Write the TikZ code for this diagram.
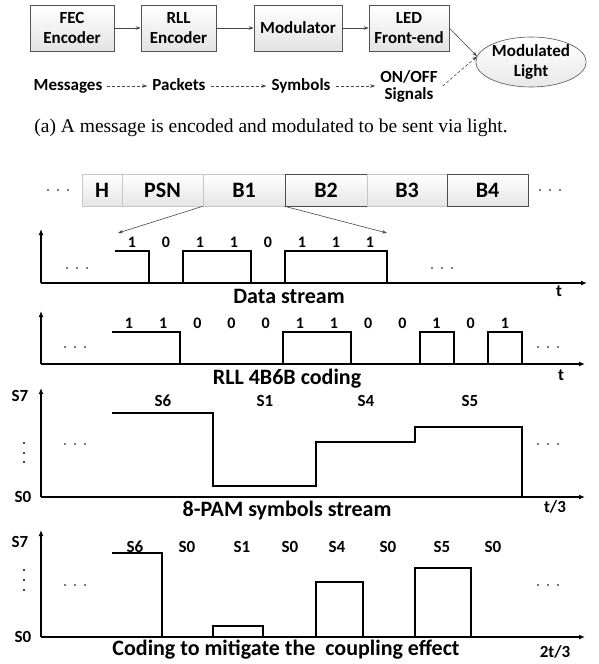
\documentclass[tikz,border=0pt]{standalone}
\usepackage{fontspec}
\setmainfont{Carlito}
\newfontfamily\capfont{Liberation Serif}
\usetikzlibrary{arrows.meta,shapes.geometric}
\begin{document}
\begin{tikzpicture}[x=1pt,y=-1pt,
  blk/.style={draw=gray!65!black,line width=0.6pt,top color=white,bottom color=gray!22,minimum height=46pt,inner sep=0pt,align=center,font=\fontsize{17}{19.5}\selectfont\bfseries},
  pk/.style={draw=gray!45,line width=0.6pt,top color=white,bottom color=gray!20,minimum height=32pt,inner sep=0pt,font=\fontsize{22}{22}\selectfont\bfseries},
  pkd/.style={pk,draw=gray!60!black},
  lbl/.style={inner xsep=5pt,inner ysep=0pt,text height=12pt,text depth=4pt,align=center,font=\fontsize{17}{17}\selectfont\bfseries},
  arr/.style={draw=gray!55!black,line width=0.6pt,-{Stealth[length=5pt,width=3.5pt]}},
  darr/.style={arr,dashed,dash pattern=on 3pt off 2pt},
  ax/.style={line width=1.2pt,-{Latex[length=6pt,width=5pt]}},
  sig/.style={line width=1.6pt,line join=miter},
  bit/.style={font=\fontsize{16}{16}\selectfont\bfseries,inner sep=0pt},
  sl/.style={font=\fontsize{17}{17}\selectfont\bfseries,inner sep=0pt},
  ttl/.style={font=\fontsize{22}{22}\selectfont\bfseries,inner sep=0pt,anchor=base},
  axl/.style={font=\fontsize{17}{17}\selectfont\bfseries,inner sep=0pt},
  dotc/.style={fill=gray!60!black}
]
\useasboundingbox (0,0) rectangle (598,664);
% ---------- (a) ----------
\node[blk,minimum width=84pt] (fec) at (72,28) {FEC\\Encoder};
\node[blk,minimum width=75pt] (rll) at (178.5,28) {RLL\\Encoder};
\node[blk,minimum width=88pt] (mod) at (298,28) {Modulator};
\node[blk,minimum width=80pt] (led) at (409,28) {LED\\Front-end};
\node[ellipse,draw=gray!65!black,line width=0.6pt,top color=white,bottom color=gray!18,minimum width=104pt,minimum height=50pt,inner sep=0pt,align=center,font=\fontsize{17}{19.5}\selectfont\bfseries] (light) at (531,62) {Modulated\\Light};
\draw[arr] (fec.east) -- (rll.west);
\draw[arr] (rll.east) -- (mod.west);
\draw[arr] (mod.east) -- (led.west);
\draw[arr] (led.east) -- (light.174);

\node[lbl] (msg) at (68,86) {Messages};
\node[lbl] (pkt) at (179,86) {Packets};
\node[lbl] (sym) at (301,86) {Symbols};
\node[inner xsep=5pt,inner ysep=0pt,align=center,font=\fontsize{17}{17}\selectfont\bfseries] (onoff) at (409,86) {ON/OFF\\Signals};
\draw[darr] (msg.east) -- (pkt.west);
\draw[darr] (pkt.east) -- (sym.west);
\draw[darr] (sym.east |- msg.east) -- (onoff.west |- msg.east);
\draw[darr] (onoff.east) -- (light.174);

\node[font=\capfont\fontsize{19.5}{19.5}\selectfont] (cap) at (271,128) {(a) A message is encoded and modulated to be sent via light.};

% ---------- packet ----------
\node[pk,minimum width=40pt] (H) at (102,190) {H};
\node[pk,minimum width=81pt] (PSN) at (162.5,190) {PSN};
\node[pk,minimum width=82pt] (B1) at (244,190) {B1};
\node[pkd,minimum width=82pt] (B2) at (326,190) {B2};
\node[pk,minimum width=80pt] (B3) at (407,190) {B3};
\node[pkd,minimum width=81pt] (B4) at (487.5,190) {B4};
\foreach \x in {48,58,68,540,550,560} \fill[dotc] (\x,190) circle (1.1pt);

\coordinate (bl) at (118,233);
\coordinate (br) at (387,233);
\draw[arr] (B1.south west) -- (bl);
\draw[arr] (B2.south west) -- (br);

% ---------- data stream ----------
\coordinate (o1) at (41,283);
\draw[ax] (o1) -- (41,229);
\draw[ax] (o1) -- (587,283);
\draw[sig] (115,251) -- (149,251) -- (149,283) -- (183,283) -- (183,251) -- (251,251) -- (251,283) -- (285,283) -- (285,251) -- (387,251) -- (387,283);
\foreach \b [count=\i from 0] in {1,0,1,1,0,1,1,1}
  \node[bit] at ({132+34*\i},242) {\b};
\foreach \x in {67,77,87,432,442,452} \fill[dotc] (\x,268) circle (1.1pt);
\node[axl] (t1) at (559,291) {t};
\node[ttl] (ds) at (289,303) {Data stream};

% ---------- RLL ----------
\coordinate (o2) at (41,364);
\draw[ax] (o2) -- (41,311);
\draw[ax] (o2) -- (585,364);
\draw[sig] (112,332) -- (180,332) -- (180,364) -- (283,364) -- (283,332) -- (351,332) -- (351,364) -- (420,364) -- (420,332) -- (454,332) -- (454,364) -- (488,364) -- (488,332) -- (522,332) -- (522,364);
\foreach \b [count=\i from 0] in {1,1,0,0,0,1,1,0,0,1,0,1}
  \node[bit] at ({129+34.17*\i},323) {\b};
\foreach \x in {65,75,85,538,548,558} \fill[dotc] (\x,347) circle (1.1pt);
\node[axl] (t2) at (561,375) {t};
\node[ttl] (rc) at (287,384) {RLL 4B6B coding};

% ---------- 8-PAM ----------
\coordinate (o3) at (41,497);
\draw[ax] (o3) -- (41,388);
\draw[ax] (o3) -- (585,497);
\draw[sig] (112,413) -- (213,413) -- (213,486) -- (316,486) -- (316,442) -- (415,442) -- (415,427) -- (522,427) -- (522,497);
\node[sl] at (163,401) {S6};
\node[sl] at (265,401) {S1};
\node[sl] at (366,401) {S4};
\node[sl] at (470,401) {S5};
\node[sl] (s7a) at (20,396) {S7};
\node[sl] (s0a) at (23,497) {S0};
\foreach \y in {443,453,462} \fill (24,\y) circle (1.1pt);
\foreach \x in {65,75,85,538,548,558} \fill[dotc] (\x,444) circle (1.1pt);
\node[axl] (t3) at (555,507) {t/3};
\node[ttl] (ps) at (287,516) {8-PAM symbols stream};

% ---------- coupling ----------
\coordinate (o4) at (41,637);
\draw[ax] (o4) -- (41,530);
\draw[ax] (o4) -- (585,637);
\draw[sig] (112,553) -- (162,553) -- (162,637) -- (213,637) -- (213,626) -- (263,626) -- (263,637) -- (316,637) -- (316,582) -- (363,582) -- (363,637) -- (415,637) -- (415,568) -- (471,568) -- (471,637) -- (522,637);
\foreach \s/\x in {S6/135,S0/187,S1/242,S0/290,S4/337,S0/388,S5/442,S0/493}
  \node[sl] at (\x,547) {\s};
\node[sl] (s7b) at (20,542) {S7};
\node[sl] (s0b) at (23,637) {S0};
\foreach \y in {570,580,590} \fill (24,\y) circle (1.1pt);
\foreach \x in {65,75,85,538,548,558} \fill[dotc] (\x,585) circle (1.1pt);
\node[axl] (t4) at (555,652) {2t/3};
\node[ttl] (cm) at (286,655) {Coding to mitigate the\ \ coupling effect};
\end{tikzpicture}
\end{document}
